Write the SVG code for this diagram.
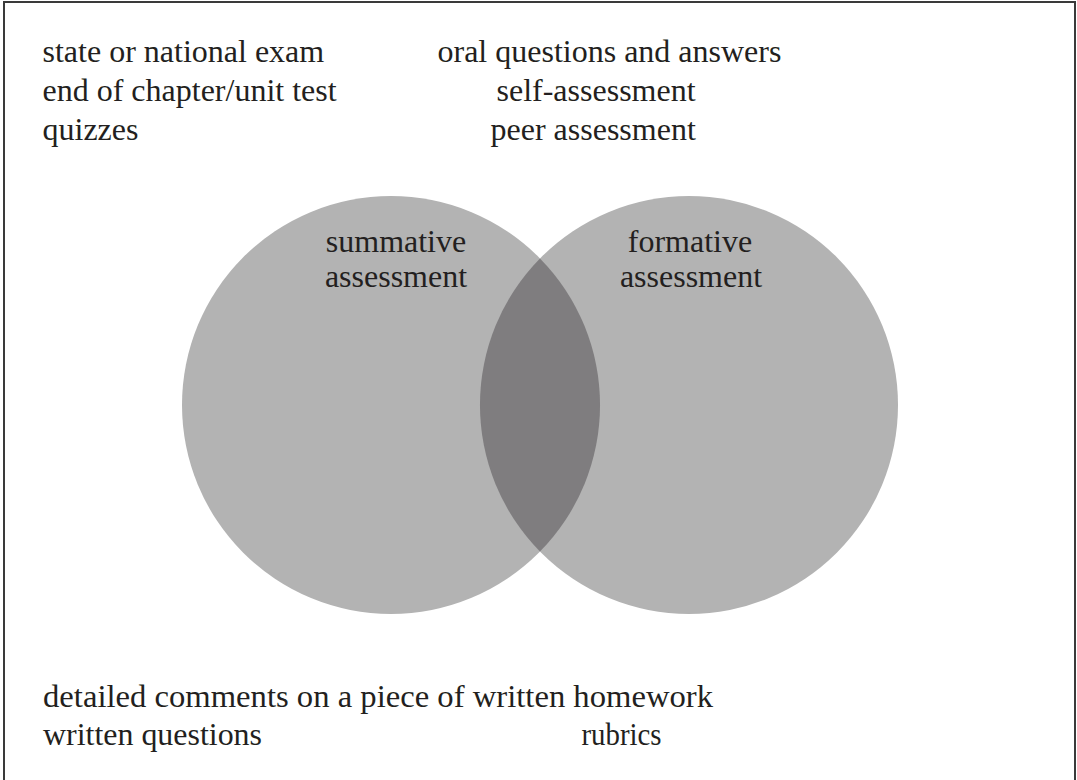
<svg xmlns="http://www.w3.org/2000/svg" width="1077" height="780" viewBox="0 0 1077 780">
  <style>
    .txt { font-family: "Liberation Serif", "Times New Roman", serif; font-size: 32px; fill: #231f20; }
    .mid { text-anchor: middle; }
    .set { fill: #b3b3b3; }
    .both { fill: #7f7d7f; }
  </style>

  <!-- frame -->
  <rect x="4" y="2" width="1071" height="790" fill="#ffffff" stroke="#3a3a3a" stroke-width="2"/>

  <!-- examples listed above the diagram -->
  <g id="summative-examples">
    <text class="txt" x="42.5" y="62">state or national exam</text>
    <text class="txt" x="42.5" y="101">end of chapter/unit test</text>
    <text class="txt" x="42.5" y="140">quizzes</text>
  </g>
  <g id="formative-examples">
    <text class="txt" x="437.5" y="62">oral questions and answers</text>
    <text class="txt" x="496.5" y="101">self-assessment</text>
    <text class="txt" x="490.5" y="140">peer assessment</text>
  </g>

  <!-- Venn sets -->
  <g id="summative">
    <circle class="set" cx="391" cy="405" r="209"/>
    <text class="txt mid" x="396" y="252">summative</text>
    <text class="txt mid" x="396" y="287">assessment</text>
  </g>
  <g id="formative">
    <circle class="set" cx="689" cy="405" r="209"/>
    <text class="txt mid" x="690" y="252">formative</text>
    <text class="txt mid" x="691" y="287">assessment</text>
  </g>
  <g id="overlap">
    <path class="both" d="M540,258.4 A209,209 0 0 1 540,551.6 A209,209 0 0 1 540,258.4 Z"/>
  </g>

  <!-- examples listed below the diagram -->
  <g id="other-examples">
    <text class="txt" x="43" y="707" textLength="670" lengthAdjust="spacingAndGlyphs">detailed comments on a piece of written homework</text>
    <text class="txt" x="43" y="745" textLength="219" lengthAdjust="spacingAndGlyphs">written questions</text>
    <text class="txt" x="581.5" y="745" textLength="80" lengthAdjust="spacingAndGlyphs">rubrics</text>
  </g>
</svg>
